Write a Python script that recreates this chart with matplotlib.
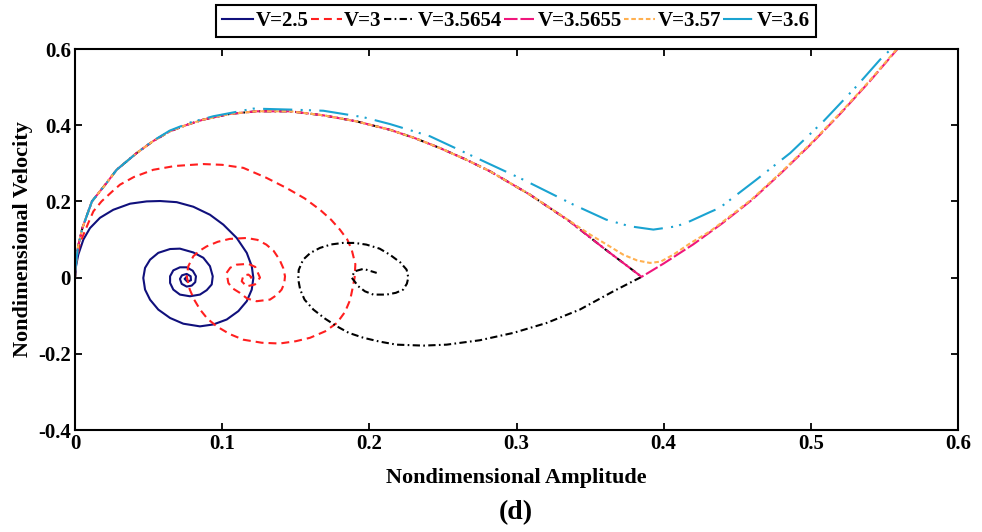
import matplotlib
matplotlib.use("Agg")
import matplotlib.pyplot as plt

# ---------------- data ----------------
labels = ["V=2.5", "V=3", "V=3.5654", "V=3.5655", "V=3.57", "V=3.6"]

# V = 2.5
x_25 = [0, 0.0007, 0.0022, 0.0057, 0.0102, 0.0170, 0.0260, 0.0374, 0.0487, 0.0578, 0.0691,
        0.0804, 0.0917, 0.1008, 0.1099, 0.1167, 0.1201, 0.1212, 0.1201, 0.1167, 0.1110,
        0.1031, 0.0940, 0.0849, 0.0736, 0.0646, 0.0566, 0.0510, 0.0476, 0.0464, 0.0476,
        0.0510, 0.0566, 0.0646, 0.0713, 0.0804, 0.0872, 0.0917, 0.0936, 0.0929, 0.0895,
        0.0849, 0.0781, 0.0713, 0.0668, 0.0646, 0.0646, 0.0668, 0.0713, 0.0759, 0.0800,
        0.0822, 0.0817, 0.0793, 0.0759, 0.0725, 0.0713, 0.0727, 0.0759, 0.0786, 0.0788,
        0.0763, 0.0745, 0.0759]
y_25 = [0, 0.030, 0.060, 0.100, 0.130, 0.157, 0.178, 0.194, 0.200, 0.201, 0.198,
        0.186, 0.165, 0.139, 0.104, 0.065, 0.030, -0.001, -0.0315, -0.062, -0.088,
        -0.110, -0.123, -0.128, -0.121, -0.106, -0.084, -0.058, -0.0315, -0.001, 0.0255,
        0.047, 0.065, 0.075, 0.076, 0.066, 0.052, 0.030, 0.0035, -0.018, -0.033,
        -0.0446, -0.049, -0.0446, -0.0315, -0.014, 0.0035, 0.019, 0.027, 0.027, 0.018,
        0.0035, -0.012, -0.021, -0.0236, -0.0165, -0.0034, 0.006, 0.0097, 0.0035, -0.007,
        -0.0105, -0.0034, 0.002]

# V = 3
x_3 = [0, 0.0007, 0.0034, 0.009, 0.0125, 0.018, 0.025, 0.0306, 0.040, 0.0532, 0.068,
       0.0872, 0.100, 0.1144, 0.130, 0.1438, 0.156, 0.1665, 0.174, 0.180, 0.185, 0.188,
       0.1905, 0.190, 0.1885, 0.187, 0.1835, 0.178, 0.170, 0.1597, 0.150, 0.139, 0.127,
       0.1144, 0.105, 0.0963, 0.090, 0.085, 0.081, 0.078, 0.0759, 0.077, 0.0804, 0.0845,
       0.0895, 0.097, 0.105, 0.1166, 0.124, 0.130, 0.135, 0.139, 0.1415, 0.1427, 0.1422,
       0.1404, 0.137, 0.1325, 0.1234, 0.117, 0.112, 0.107, 0.1042, 0.103, 0.1055, 0.1099,
       0.1178, 0.1225, 0.1257, 0.1223, 0.1166, 0.1133, 0.1144, 0.1178, 0.120, 0.1178]
y_3 = [0, 0.04, 0.091, 0.143, 0.174, 0.2, 0.225, 0.244, 0.264, 0.283, 0.293,
       0.298, 0.296, 0.288, 0.262, 0.235, 0.208, 0.178, 0.152, 0.126, 0.100, 0.0735,
       0.035, 0, -0.030, -0.058, -0.090, -0.119, -0.141, -0.158, -0.167, -0.173, -0.171,
       -0.163, -0.148, -0.128, -0.108, -0.084, -0.058, -0.0315, 0.0035, 0.030, 0.056, 0.070,
       0.082, 0.094, 0.1015, 0.104, 0.099, 0.0866, 0.070, 0.047, 0.025, 0.0035, -0.015,
       -0.0315, -0.046, -0.0577, -0.062, -0.055, -0.040, -0.028, -0.014, 0.0123, 0.026, 0.034,
       0.036, 0.028, 0.0, -0.018, -0.023, -0.0097, 0.005, 0.008, 0.001, -0.005]

# shared upper arc of V = 3.5654 / 3.5655 / 3.57
x_arc = [0, 0.0005, 0.002, 0.005, 0.0115, 0.0215, 0.0283, 0.0419, 0.053, 0.0645, 0.0760,
         0.0872, 0.1053, 0.1234, 0.146, 0.1687, 0.1914, 0.214, 0.231, 0.248, 0.265, 0.282,
         0.309, 0.336]
y_arc = [0, 0.03, 0.08, 0.13, 0.2, 0.2486, 0.283, 0.327, 0.358, 0.384, 0.401,
         0.4147, 0.4297, 0.4365, 0.4365, 0.426, 0.410, 0.388, 0.366, 0.340, 0.311, 0.279,
         0.218, 0.148]

# V = 3.5654 (continuation after the arc)
x_3654 = [0.359, 0.385, 0.3658, 0.343, 0.3205, 0.298, 0.275, 0.2525, 0.2367, 0.2185, 0.207,
          0.196, 0.186, 0.178, 0.170, 0.162, 0.156, 0.153, 0.1517, 0.152, 0.155, 0.160,
          0.1665, 0.174, 0.182, 0.190, 0.198, 0.207, 0.214, 0.221, 0.2253, 0.2265, 0.2255,
          0.223, 0.218, 0.2117, 0.2027, 0.197, 0.1925, 0.188, 0.190, 0.196, 0.205]
y_3654 = [0.078, 0.002, -0.036, -0.084, -0.119, -0.145, -0.1645, -0.176, -0.1785, -0.176, -0.168,
          -0.158, -0.145, -0.128, -0.108, -0.084, -0.058, -0.0315, -0.005, 0.020, 0.047, 0.065,
          0.078, 0.087, 0.091, 0.091, 0.0866, 0.076, 0.060, 0.040, 0.021, 0, -0.016,
          -0.0315, -0.040, -0.0446, -0.0446, -0.036, -0.0228, 0, 0.0165, 0.023, 0.0123]

# V = 3.5655 (continuation after the arc)
x_3655 = [0.359, 0.385, 0.40, 0.42, 0.44, 0.46, 0.48, 0.50, 0.52, 0.54, 0.56, 0.565]
y_3655 = [0.078, 0.002, 0.037, 0.087, 0.143, 0.204, 0.275, 0.35, 0.43, 0.515, 0.605, 0.628]

# V = 3.57 (continuation after the arc)
x_357 = [0.350, 0.362, 0.3726, 0.382, 0.3907, 0.398, 0.4065, 0.418, 0.4315, 0.44, 0.46,
         0.48, 0.50, 0.52, 0.54, 0.56, 0.565]
y_357 = [0.113, 0.085, 0.060, 0.045, 0.0385, 0.042, 0.060, 0.090, 0.1215, 0.146, 0.206,
         0.277, 0.352, 0.432, 0.517, 0.607, 0.630]

# V = 3.6
x_36 = [0, 0.0005, 0.002, 0.005, 0.0115, 0.0215, 0.0283, 0.0419, 0.053, 0.0645, 0.079,
        0.094, 0.1212, 0.146, 0.1687, 0.196, 0.214, 0.2412, 0.2706, 0.3046, 0.3386, 0.361,
        0.377, 0.393, 0.4088, 0.4179, 0.4315, 0.438, 0.463, 0.486, 0.5085, 0.531, 0.547,
        0.556, 0.56]
y_36 = [0, 0.03, 0.08, 0.13, 0.2, 0.2486, 0.283, 0.327, 0.359, 0.386, 0.408,
        0.4235, 0.4436, 0.441, 0.438, 0.421, 0.403, 0.371, 0.318, 0.257, 0.1916, 0.152,
        0.1347, 0.126, 0.1347, 0.148, 0.172, 0.183, 0.257, 0.327, 0.410, 0.502, 0.572,
        0.6055, 0.62]

x_ticks = [0, 0.1, 0.2, 0.3, 0.4, 0.5, 0.6]
y_ticks = [-0.4, -0.2, 0, 0.2, 0.4, 0.6]
x_tick_labels = ["0", "0.1", "0.2", "0.3", "0.4", "0.5", "0.6"]
y_tick_labels = ["-0.4", "-0.2", "0", "0.2", "0.4", "0.6"]

# ---------------- figure ----------------
plt.rcParams['font.family'] = ['Liberation Serif', 'DejaVu Serif']
plt.rcParams['font.weight'] = 'bold'

fig = plt.figure(figsize=(9.82, 5.32), dpi=100)
ax = fig.add_axes([75/982, 1-430/532, (958-75)/982, (430-49)/532])

lw = 1.5
h1, = ax.plot(x_25, y_25, color='#10107c', lw=lw, solid_joinstyle='round')
h2, = ax.plot(x_3, y_3, color='#ff1f1f', lw=lw, dashes=(3.8, 2.4))
h3, = ax.plot(x_arc + x_3654, y_arc + y_3654, color='black', lw=lw, dashes=(3.5, 1.6, 0.8, 1.6))
h4, = ax.plot(x_arc + x_3655, y_arc + y_3655, color='#f0167c', lw=lw, dashes=(6.5, 1.4))
h5, = ax.plot(x_arc[:-1] + x_357, y_arc[:-1] + y_357, color='#ffb050', lw=lw, dashes=(2.2, 1.3))
h6, = ax.plot(x_36, y_36, color='#1aa3d1', lw=lw, dashes=(14, 4, 1, 3, 1, 4))

ax.set_xlim(0, 0.6)
ax.set_ylim(-0.4, 0.6)
ax.set_xticks(x_ticks)
ax.set_xticklabels(x_tick_labels)
ax.set_yticks(y_ticks)
ax.set_yticklabels(y_tick_labels)
ax.tick_params(direction='in', length=5, width=1.3, top=True, right=True,
               labelsize=15, pad=3)
for s in ax.spines.values():
    s.set_linewidth(1.5)

ax.set_xlabel("Nondimensional Amplitude", fontsize=16, fontweight='bold', labelpad=10)
ax.set_ylabel("Nondimensional Velocity", fontsize=16, fontweight='bold', labelpad=4)

leg = fig.legend([h1, h2, h3, h4, h5, h6], labels, loc='upper center',
                 bbox_to_anchor=(516/982, 1-5/532), ncol=6, fontsize=15,
                 frameon=True, fancybox=False, edgecolor='black', framealpha=1,
                 handlelength=1.5, handletextpad=0.12, columnspacing=0.1,
                 borderpad=0.28, borderaxespad=0)
leg.get_frame().set_linewidth(1.5)

fig.text(516/982, 1-513/532, "(d)", ha='center', va='center', fontsize=20, fontweight='bold')

fig.savefig("out.png", dpi=100)
